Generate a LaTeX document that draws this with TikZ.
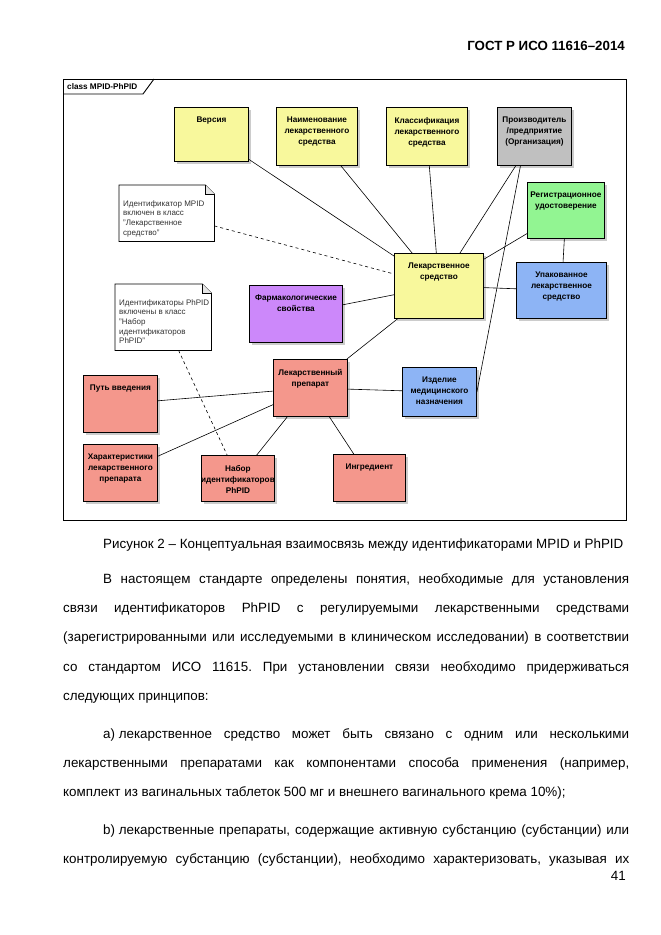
\documentclass[tikz,border=0pt]{standalone}
\usepackage{fontspec}
\setmainfont{Liberation Sans}
\usetikzlibrary{shadows}
\definecolor{mpYellow}{HTML}{F8F89C}
\definecolor{mpGray}{HTML}{C0C0C0}
\definecolor{mpGreen}{HTML}{92F592}
\definecolor{mpBlue}{HTML}{8DB4F5}
\definecolor{mpViolet}{HTML}{CC88FA}
\definecolor{mpSalmon}{HTML}{F4978C}

\begin{document}
\begin{tikzpicture}[x=1pt, y=-1pt,
    cls/.style={draw, line width=0.9pt, anchor=north west, inner sep=0pt,
        drop shadow={shadow xshift=3pt, shadow yshift=-3pt, fill=black!20, opacity=1}},
    clstext/.style={anchor=north, yshift=-10pt, inner sep=0pt, align=center,
        font=\bfseries\fontsize{8.2}{11}\selectfont},
    note/.style={anchor=north west, inner sep=0pt},
    notetext/.style={anchor=north west, xshift=4pt, yshift=-15pt, inner sep=0pt, align=left,
        text=black!80, font=\fontsize{8}{9.7}\selectfont},
    noteline/.style={line width=0.7pt},
    conn/.style={line width=0.6pt},
    para/.style={anchor=north west, inner sep=0pt, text width=566pt, align=justify,
        font=\fontsize{13.4}{29.4}\selectfont\frenchspacing}
    ]
    \useasboundingbox[fill=white] (0,0) rectangle (661,935);

    \node[anchor=east, inner sep=0pt, font=\bfseries\fontsize{13.3}{15}\selectfont] (gost) at (625,45.5) {ГОСТ Р ИСО 11616–2014};

    \node[draw, line width=0.9pt, anchor=north west, inner sep=0pt, minimum width=563, minimum height=441] (frame) at (63,79) {};
    \draw[line width=0.9pt] ([yshift=-15pt]frame.north west) -- ++(80,0) -- ++(11,-15);
    \node[anchor=west, inner sep=0pt, font=\bfseries\fontsize{8.2}{9}\selectfont] (frametitle) at (67,87) {class MPID-PhPID};

    \node[cls, fill=mpYellow, minimum width=74, minimum height=54, label={[clstext]north:Версия}] (ver) at (174,107) {};
    \node[cls, fill=mpYellow, minimum width=81, minimum height=58, label={[clstext]north:Наименование\\лекарственного\\средства}] (naim) at (276,107) {};
    \node[cls, fill=mpYellow, minimum width=81, minimum height=58, label={[clstext]north:Классификация\\лекарственного\\средства}] (klass) at (386,107) {};
    \node[cls, fill=mpGray, minimum width=74, minimum height=58, label={[clstext]north:Производитель\\/предприятие\\(Организация)}] (proizv) at (497,107) {};
    \node[cls, fill=mpGreen, minimum width=77, minimum height=56, label={[clstext]north:Регистрационное\\удостоверение}] (reg) at (527,182) {};
    \node[cls, fill=mpYellow, minimum width=89, minimum height=65, label={[clstext]north:Лекарственное\\средство}] (ls) at (394,253) {};
    \node[cls, fill=mpBlue, minimum width=90, minimum height=56, label={[clstext]north:Упакованное\\лекарственное\\средство}] (upak) at (516,262) {};
    \node[cls, fill=mpBlue, minimum width=74, minimum height=49, label={[clstext]north:Изделие\\медицинского\\назначения}] (izd) at (402,367) {};
    \node[cls, fill=mpViolet, minimum width=93, minimum height=57, label={[clstext]north:Фармакологические\\свойства}] (farm) at (249,285) {};
    \node[cls, fill=mpSalmon, minimum width=74, minimum height=57, label={[clstext]north:Лекарственный\\препарат}] (lp) at (273,359) {};
    \node[cls, fill=mpSalmon, minimum width=74, minimum height=57, label={[clstext]north:Путь введения}] (put) at (83,375) {};
    \node[cls, fill=mpSalmon, minimum width=74, minimum height=57, label={[clstext]north:Характеристики\\лекарственного\\препарата}] (har) at (83,444) {};
    \node[cls, fill=mpSalmon, minimum width=73, minimum height=46, label={[clstext]north:Набор\\идентификаторов\\PhPID}] (nabor) at (201,455) {};
    \node[cls, fill=mpSalmon, minimum width=72, minimum height=47, label={[clstext]north:Ингредиент}] (ingr) at (333,454) {};

    \node[note, minimum width=95, minimum height=56, label={[notetext]north west:Идентификатор MPID\\включен в класс\\"Лекарственное\\средство"}] (mpidnote) at (119,185) {};
    \node[note, minimum width=96, minimum height=66, label={[notetext]north west:Идентификаторы PhPID\\включены в класс\\"Набор\\идентификаторов\\PhPID"}] (phpidnote) at (115,284) {};
    \foreach \n in {mpidnote, phpidnote} {
        \draw[noteline] (\n.north west) -- ([xshift=-9pt]\n.north east) -- ([yshift=-9pt]\n.north east) -- (\n.south east) -- (\n.south west) -- cycle;
        \draw[noteline, fill=black!10] ([xshift=-9pt]\n.north east) -- ([xshift=-9pt,yshift=-9pt]\n.north east) -- ([yshift=-9pt]\n.north east);
    }

    \path[conn]
        (ver) edge (ls)
        (naim) edge (ls)
        (klass) edge (ls)
        (proizv) edge (ls)
        (reg) edge (ls)
        (reg) edge (upak)
        (ls) edge (upak)
        (farm) edge (ls)
        (lp) edge (ls)
        (lp) edge (izd)
        (put) edge (lp)
        (har) edge (lp)
        (nabor) edge (lp)
        (ingr) edge (lp)
        ([xshift=-14pt]proizv.south) edge (izd.east)
        (mpidnote) edge[dashed] (ls)
        (phpidnote) edge[dashed] (nabor)
    ;

    \node[anchor=west, inner sep=0pt, font=\fontsize{13.4}{15}\selectfont] (caption) at (103,545) {Рисунок 2 – Концептуальная взаимосвязь между идентификаторами MPID и PhPID};

    \node[para] (par1) at (63,573) {\hspace*{40pt}В настоящем стандарте определены понятия, необходимые для установления\linebreak
        связи идентификаторов PhPID с регулируемыми лекарственными средствами\linebreak
        (зарегистрированными или исследуемыми в клиническом исследовании) в соответствии\linebreak
        со стандартом ИСО 11615. При установлении связи необходимо придерживаться\linebreak
        следующих принципов:};
    \node[para] (par2) at (63,728) {\hspace*{40pt}а)\hspace{3.7pt}лекарственное средство может быть связано с одним или несколькими\linebreak
        лекарственными препаратами как компонентами способа применения (например,\linebreak
        комплект из вагинальных таблеток 500 мг и внешнего вагинального крема 10\%);};
    \node[para] (par3) at (63,824) {\hspace*{40pt}b)\hspace{3.7pt}лекарственные препараты, содержащие активную субстанцию (субстанции) или\linebreak
        контролируемую субстанцию (субстанции), необходимо характеризовать, указывая их\linebreak};
    \node[anchor=east, inner sep=0pt, font=\fontsize{13.4}{15}\selectfont] (pagenum) at (626,876) {41};
\end{tikzpicture}
\end{document}
